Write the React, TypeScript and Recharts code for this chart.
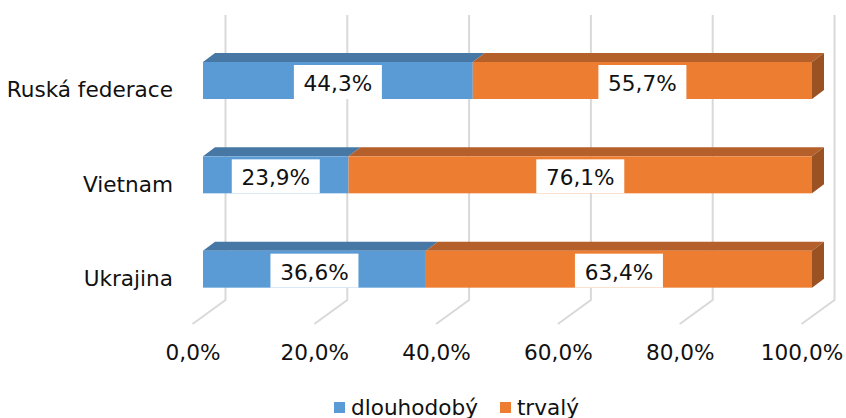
import React from 'react';
import { BarChart, Bar, XAxis, YAxis, CartesianGrid, Legend, LabelList } from 'recharts';

const categories = ['Ruská federace', 'Vietnam', 'Ukrajina'];
const dlouhodobyValues = [44.3, 23.9, 36.6];
const trvalyValues = [55.7, 76.1, 63.4];
const xTicks = [0, 20, 40, 60, 80, 100];
const seriesNames = ['dlouhodobý', 'trvalý'];

const data = categories.map((name, i) => ({
  name,
  dlouhodoby: dlouhodobyValues[i],
  trvaly: trvalyValues[i],
}));

const FONT = '"DejaVu Sans", Verdana, sans-serif';
const FS = 21.6;
const TEXT = '#111111';
const DX = 12;
const DY = 9;

const BLUE = '#5B9BD5';
const BLUE_TOP = '#4777A5';
const ORANGE = '#ED7D31';
const ORANGE_TOP = '#B5602A';
const ORANGE_SIDE = '#9B5223';

const fmt = (v: number) => v.toFixed(1).replace('.', ',') + '%';

const makeShape = (front: string, top: string, side: string | null) => (props: any) => {
  const { x, y, width, height } = props;
  return (
    <g>
      <polygon
        points={`${x},${y} ${x + DX},${y - DY} ${x + width + DX},${y - DY} ${x + width},${y}`}
        fill={top}
      />
      {side && (
        <polygon
          points={`${x + width},${y} ${x + width + DX},${y - DY} ${x + width + DX},${y + height - DY} ${x + width},${y + height}`}
          fill={side}
        />
      )}
      <rect x={x} y={y} width={width} height={height} fill={front} />
    </g>
  );
};

const renderLabel = (props: any) => {
  const { x, y, width, height, value } = props;
  const cx = x + width / 2;
  const cy = y + height / 2;
  const bw = 88;
  const bh = 34;
  return (
    <g>
      <rect x={cx - bw / 2} y={cy - bh / 2 + 1.5} width={bw} height={bh} fill="#ffffff" />
      <text
        x={cx}
        y={cy + 3}
        dy="0.35em"
        textAnchor="middle"
        fontFamily={FONT}
        fontSize={FS}
        fill={TEXT}
      >
        {fmt(Number(value))}
      </text>
    </g>
  );
};

const gridLine = (props: any) => {
  const { x1, y1, y2, key } = props;
  const bx = x1 + 22.5;
  const fx = x1 - 10.5;
  return (
    <path
      key={key}
      d={`M${bx},${y1 - 18} L${bx},${y2 - 16} L${fx},${y2 + 8}`}
      stroke="#D9D9D9"
      strokeWidth={2}
      fill="none"
    />
  );
};

const XTick = (props: any) => {
  const { x, y, payload } = props;
  return (
    <text x={x - 10} y={y + 28} dy="0.35em" textAnchor="middle" fontFamily={FONT} fontSize={FS} fill={TEXT}>
      {fmt(Number(payload.value))}
    </text>
  );
};

const YTick = (props: any) => {
  const { x, y, payload } = props;
  return (
    <text x={x - 22} y={y + 9.5} dy="0.35em" textAnchor="end" fontFamily={FONT} fontSize={FS} fill={TEXT}>
      {payload.value}
    </text>
  );
};

const LegendContent = (props: any) => {
  const { payload } = props;
  return (
    <div
      style={{
        boxSizing: 'border-box',
        height: 30,
        paddingTop: 10.5,
        display: 'flex',
        alignItems: 'flex-start',
        marginLeft: 334,
        fontFamily: FONT,
        fontSize: FS,
        color: TEXT,
        lineHeight: '18px',
      }}
    >
      {(payload || []).map((p: any, i: number) => (
        <div key={i} style={{ display: 'flex', alignItems: 'center', height: 18, marginRight: 22 }}>
          <span style={{ display: 'inline-block', width: 11, height: 11, background: p.color, marginRight: 6 }} />
          <span style={{ lineHeight: '18px', height: 18 }}>{p.value}</span>
        </div>
      ))}
    </div>
  );
};

export default function App() {
  return (
    <div style={{ position: 'absolute', left: 0, top: 0, width: 846, height: 418, background: '#fff' }}>
      <BarChart
        width={846}
        height={418}
        data={data}
        layout="vertical"
        margin={{ top: 33, right: 34, left: 0, bottom: 0 }}
        barSize={37}
      >
        <CartesianGrid horizontal={false} vertical={gridLine} />
        <XAxis
          type="number"
          domain={[0, 100]}
          ticks={xTicks}
          tick={<XTick />}
          tickLine={false}
          axisLine={false}
          height={72}
          interval={0}
        />
        <YAxis
          type="category"
          dataKey="name"
          width={203}
          tick={<YTick />}
          tickLine={false}
          axisLine={false}
        />
        <Legend
          verticalAlign="bottom"
          content={<LegendContent />}
          wrapperStyle={{ left: 0, width: 846 }}
        />
        <Bar
          dataKey="dlouhodoby"
          name={seriesNames[0]}
          stackId="a"
          fill={BLUE}
          isAnimationActive={false}
          shape={makeShape(BLUE, BLUE_TOP, null)}
        >
          <LabelList dataKey="dlouhodoby" content={renderLabel} />
        </Bar>
        <Bar
          dataKey="trvaly"
          name={seriesNames[1]}
          stackId="a"
          fill={ORANGE}
          isAnimationActive={false}
          shape={makeShape(ORANGE, ORANGE_TOP, ORANGE_SIDE)}
        >
          <LabelList dataKey="trvaly" content={renderLabel} />
        </Bar>
      </BarChart>
    </div>
  );
}
